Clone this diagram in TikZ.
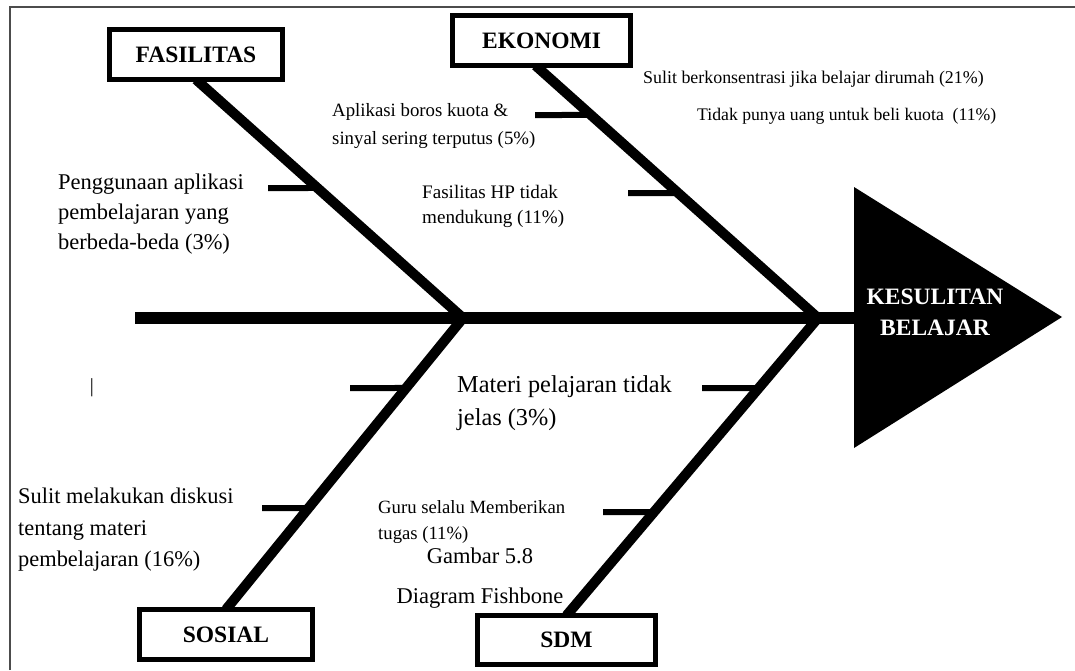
\documentclass[tikz,border=0pt]{standalone}
\usepackage{fontspec}
\setmainfont{Liberation Serif}
\usetikzlibrary{calc,backgrounds}
\begin{document}
\begin{tikzpicture}[x=1pt,y=-1pt,
  spine/.style={line width=12pt},
  bone/.style={line width=10pt},
  tickln/.style={line width=6pt},
  catbox/.style={draw, line width=5pt, fill=white, inner sep=0pt, outer sep=0pt,
    font=\fontsize{23.5}{28}\selectfont\bfseries},
  lbl/.style 2 args={font=\fontsize{#1}{#2}\selectfont, align=left, anchor=north west, inner sep=0pt},
]
\useasboundingbox (0,0) rectangle (1075,670);
% frame
\draw[line width=2pt, draw=black!70] (10,670) -- (10,7) -- (1075,7);

% category boxes
\node[catbox, minimum width=173pt, minimum height=50pt] (fas) at (196,54.5) {FASILITAS};
\node[catbox, minimum width=178pt, minimum height=50pt] (eko) at (541.5,40.5) {EKONOMI};
\node[catbox, minimum width=173pt, minimum height=50pt] (sos) at (226,634.5) {SOSIAL};
\node[catbox, minimum width=178pt, minimum height=49pt] (sdm) at (566.5,640) {SDM};

% head
\fill (854,187) -- (1062,317) -- (854,448) -- cycle;
\node[text=white, align=center, inner sep=0pt, font=\fontsize{23.5}{31}\selectfont\bfseries] (head) at (935,312) {KESULITAN\\BELAJAR};

% key points
\coordinate (tail) at (135,318);
\coordinate (headL) at (856,318);
\coordinate (jA) at (463,318);
\coordinate (jB) at (818,318);
\coordinate (ekoTop) at ([xshift=-6pt]eko.south);

\begin{scope}[on background layer]
\draw[spine] (tail) -- (headL);
\draw[bone] (fas.south) -- (jA);
\draw[bone] (ekoTop) -- (jB);
\draw[bone] (jA) -- (sos.north);
\draw[bone] (jB) -- (sdm.north);
\end{scope}

% points on bones
\coordinate (f1) at ($(fas.south)!0.4549!(jA)$);
\coordinate (e1) at ($(ekoTop)!0.1960!(jB)$);
\coordinate (e2) at ($(ekoTop)!0.5050!(jB)$);
\coordinate (s1) at ($(jA)!0.2401!(sos.north)$);
\coordinate (s2) at ($(jA)!0.6518!(sos.north)$);
\coordinate (d1) at ($(jB)!0.2353!(sdm.north)$);
\coordinate (d2) at ($(jB)!0.6521!(sdm.north)$);
\coordinate (f1s) at (268,188);
\coordinate (e1s) at (535,115);
\coordinate (e2s) at (628,193);
\coordinate (s1s) at (350,388);
\coordinate (s2s) at (262,508);
\coordinate (d1s) at (702,388);
\coordinate (d2s) at (603,512);
\draw[tickln] (f1s) -- (f1);
\draw[tickln] (e1s) -- (e1);
\draw[tickln] (e2s) -- (e2);
\draw[tickln] (s1s) -- (s1);
\draw[tickln] (s2s) -- (s2);
\draw[tickln] (d1s) -- (d1);
\draw[tickln] (d2s) -- (d2);

% texts
\node[lbl={22.5}{30}] (t1) at (58,174) {Penggunaan aplikasi\\pembelajaran yang\\berbeda-beda (3\%)};
\node[lbl={18.8}{28}] (t2) at (332,103) {Aplikasi boros kuota \&\\sinyal sering terputus (5\%)};
\node[lbl={19.1}{25}] (t3) at (422,185.5) {Fasilitas HP tidak\\mendukung (11\%)};
\node[lbl={17.9}{22}] (t4) at (643,71) {Sulit berkonsentrasi jika belajar dirumah (21\%)};
\node[lbl={17.7}{22}] (t5) at (697,108) {Tidak punya uang untuk beli kuota~ (11\%)};
\node[lbl={24.3}{33}] (t6) at (457,375.5) {Materi pelajaran tidak\\jelas (3\%)};
\node[lbl={22.4}{31.5}] (t7) at (18,488) {Sulit melakukan diskusi\\tentang materi\\pembelajaran (16\%)};
\node[lbl={18.7}{26}] (t8) at (378,500) {Guru selalu Memberikan\\tugas (11\%)};
\node[font=\fontsize{22.5}{40}\selectfont, align=center, anchor=north, inner sep=0pt] (cap) at (480,548) {Gambar 5.8\\Diagram Fishbone};
\node[font=\fontsize{20}{24}\selectfont, inner sep=0pt] (bar) at (92,388) {|};
\end{tikzpicture}
\end{document}
